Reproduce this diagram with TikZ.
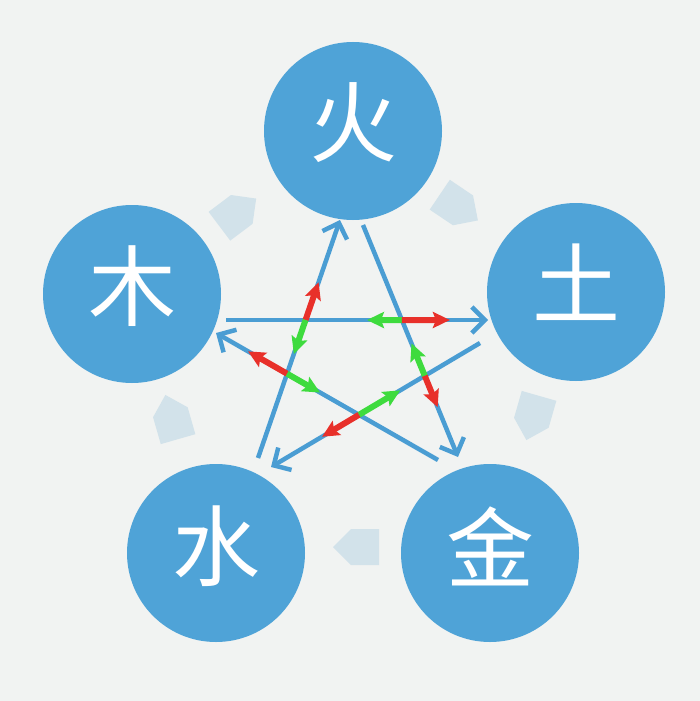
\documentclass[tikz,border=0pt]{standalone}
\usepackage{fontspec}
\newfontfamily\cjk{Noto Sans CJK SC}
\usetikzlibrary{arrows.meta,calc}
\definecolor{bg}{HTML}{F1F3F2}
\definecolor{elc}{HTML}{4FA3D7}
\definecolor{lnc}{HTML}{4A9DD3}
\definecolor{pale}{HTML}{D2E2EA}
\definecolor{rdc}{HTML}{E8302A}
\definecolor{gnc}{HTML}{3EDB3E}
\tikzset{
  elem/.style={circle,fill=elc,minimum size=178pt,inner sep=0pt},
  ch/.style={text=white,font=\cjk\fontsize{88}{88}\selectfont,inner sep=0pt},
  ke/.style={lnc,line width=4.5pt,-{Straight Barb[length=13pt,width=26pt]}},
  rarr/.style={rdc,line width=6pt,-{Stealth[length=17pt,width=16pt,inset=3pt]}},
  garr/.style={gnc,line width=6pt,-{Stealth[length=17pt,width=16pt,inset=3pt]}},
  sheng/.style={fill=pale}
}
\begin{document}
\begin{tikzpicture}[x=1pt,y=-1pt]
\fill[bg] (0,0) rectangle (700,701);
\useasboundingbox (0,0) rectangle (700,701);

% generating-cycle block arrows (clockwise)
\foreach \x/\y/\a in {237/213/37, 458/207/-34, 533/417/-106, 357/547/180, 172/418/106}
  \fill[sheng, shift={(\x,\y)}, rotate=\a] (-22,-18) -- (6,-18) -- (24,0) -- (6,18) -- (-22,18) -- cycle;

% elements
\node[elem] (huo) at (353,131) {};
\node[elem] (tu)  at (576,292) {};
\node[elem] (jin) at (490,553) {};
\node[elem] (shui) at (216,553) {};
\node[elem] (mu)  at (132,294) {};
\node[ch] (thuo) at ([yshift=8pt]huo.center) {火};
\node[ch] (ttu)  at ([yshift=10pt]tu.center) {土};
\node[ch] (tjin) at ([yshift=7pt]jin.center) {金};
\node[ch] (tshui) at ([yshift=7pt]shui.center) {水};
\node[ch] (tmu)  at ([yshift=8pt]mu.center) {木};

% pentagram end points
\coordinate (a1) at (258,458); \coordinate (b1) at (340,220);
\coordinate (a2) at (363,225); \coordinate (b2) at (458,457);
\coordinate (a3) at (480,343); \coordinate (b3) at (271,467);
\coordinate (a4) at (438,460); \coordinate (b4) at (216,333);
\coordinate (a5) at (226,320); \coordinate (b5) at (488,320);

\draw[ke] (a1) -- (b1);
\draw[ke] (a2) -- (b2);
\draw[ke] (a3) -- (b3);
\draw[ke] (a4) -- (b4);
\draw[ke] (a5) -- (b5);

\coordinate (p15) at (intersection of a1--b1 and a5--b5);
\coordinate (p25) at (intersection of a2--b2 and a5--b5);
\coordinate (p23) at (intersection of a2--b2 and a3--b3);
\coordinate (p34) at (intersection of a3--b3 and a4--b4);
\coordinate (p41) at (intersection of a4--b4 and a1--b1);

\draw[rarr] (p15) -- ($(p15)!40pt!(b1)$);
\draw[garr] (p15) -- ($(p15)!36pt!(a1)$);
\draw[garr] (p25) -- ($(p25)!35pt!(a5)$);
\draw[rarr] (p25) -- ($(p25)!48pt!(b5)$);
\draw[garr] (p23) -- ($(p23)!35pt!(a2)$);
\draw[rarr] (p23) -- ($(p23)!34pt!(b2)$);
\draw[garr] (p34) -- ($(p34)!48pt!(a3)$);
\draw[rarr] (p34) -- ($(p34)!43pt!(b3)$);
\draw[rarr] (p41) -- ($(p41)!45pt!(b4)$);
\draw[garr] (p41) -- ($(p41)!38pt!(a4)$);
\end{tikzpicture}
\end{document}
